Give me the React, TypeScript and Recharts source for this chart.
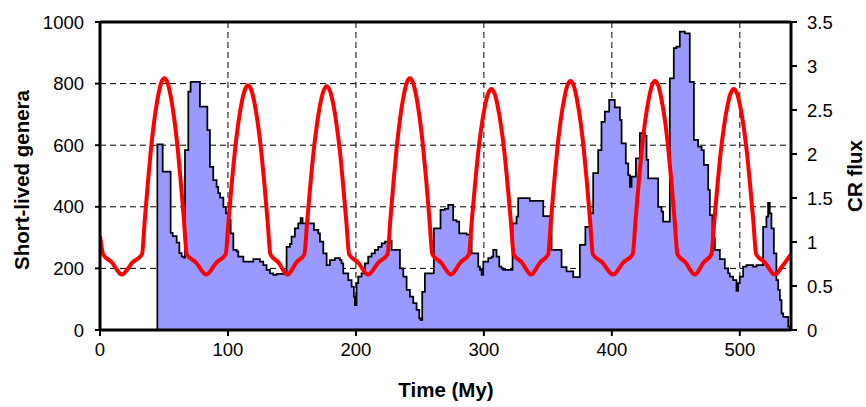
import React from "react";
import { ComposedChart, Area, Line, XAxis, YAxis, CartesianGrid, ReferenceLine, Label } from "recharts";

// Short-lived genera (step series): time (My) and count
const genTime = [
  44.8, 44.8, 49, 55.2, 56.8, 59.9, 62, 63.8, 65.6, 66.4, 69, 70.8, 78.1, 83.9, 85.9, 88.5, 91.1, 92.4, 93.8, 96.4,
  98.4, 100.3, 102.1, 104.2, 106.8, 108.1, 112, 119.8, 125, 127.6, 130.2, 132.8, 135.4, 138, 145.8, 148.4, 149.7,
  152.3, 154.9, 156.8, 158.3, 167.2, 170.6, 171.9, 174.5, 177.1, 179.7, 183.6, 187.5, 188.8, 190.1, 194, 196.6,
  198.4, 199.2, 200.5, 201.8, 204.4, 207, 209.6, 212.2, 214.8, 217.4, 220.1, 222.7, 225.3, 227.9, 234.4, 237,
  239.6, 242.2, 244.8, 247.4, 249.5, 250.5, 251.8, 253.9, 260.9, 266.1, 269.5, 272.1, 276, 278.6, 280.7, 286.5,
  289.6, 290.4, 295.6, 296.9, 298.2, 299.5, 303.4, 306, 307.3, 309.9, 312, 313.8, 315.1, 322.4, 325.5, 326.8,
  335.9, 346.4, 352.9, 360.7, 364.6, 369.8, 375, 379.3, 382.8, 385.4, 389.3, 391.9, 394.5, 397.9, 402.3, 406.3,
  407.6, 410.9, 412.8, 414.1, 415.4, 418.8, 421.9, 425.8, 427.1, 428.4, 436.2, 438.8, 440.1, 445.3, 448.4, 450.5,
  453.1, 457, 460.9, 464.1, 467.4, 470.1, 471.9, 475.3, 476.6, 478.6, 480.5, 484.4, 488.3, 490.9, 492.2, 494.8,
  497.4, 498.7, 500, 502.6, 505.2, 510.4, 513, 518.2, 520.8, 522.1, 523.4, 524.7, 526.6, 528.6, 530, 531.3, 532.6,
  533.9, 537.8, 539, 539,
];
const genCount = [
  0, 603, 514, 315, 305, 284, 250, 238, 235, 584, 774, 806, 725, 649, 530, 487, 465, 444, 430, 400,
  379, 357, 314, 260, 255, 238, 222, 230, 222, 211, 195, 184, 179, 182, 270, 280, 303,
  330, 346, 363, 346, 325, 314, 287, 249, 211, 227, 233, 227, 216, 184, 162, 141,
  108, 81, 152, 173, 184, 216, 238, 249, 260, 270, 281, 287, 289, 260, 200, 173,
  130, 108, 87, 65, 38, 32, 124, 184, 330, 390, 393, 406, 357, 352, 314, 310,
  303, 249, 206, 195, 179, 222, 233, 238, 260, 238, 206, 200, 195, 346, 368, 428,
  419, 370, 260, 204, 190, 172, 276, 335, 379, 509, 584, 676, 709, 747, 723, 682,
  606, 541, 503, 465, 498, 557, 639, 630, 552, 492, 400, 384, 352, 817, 915, 920,
  969, 963, 806, 617, 595, 584, 536, 455, 373, 298, 260, 230, 200, 184, 173, 162,
  127, 152, 173, 206, 211, 206, 211, 335, 368, 413, 379, 330, 249, 162, 130, 97, 54,
  43, 11, 11, 0,
];

// CR flux (red line): time (My) and flux
const crTime = [
  0, 2.5, 9.75, 13.4, 15.55, 17, 18.6, 20.95, 24.9,
  32.8, 35, 37.7, 40, 42.6, 45.4, 47.85, 50.3, 52.75, 55.2, 58, 60.6, 62.9, 65.6, 67.8,
  75.4, 79.2, 81.5, 83, 84.5, 86.8, 90.6,
  98.2, 100.4, 103.1, 105.4, 108, 110.8, 113.25, 115.7, 118.15, 120.6, 123.4, 126, 128.3, 131, 133.2,
  139.85, 143.2, 145.2, 146.5, 147.8, 149.8, 153.1,
  159.7, 161.9, 164.6, 166.9, 169.5, 172.3, 174.75, 177.2, 179.65, 182.1, 184.9, 187.5, 189.8, 192.5, 194.7,
  202.1, 205.8, 208, 209.5, 211, 213.3, 217.1,
  224.7, 226.9, 229.6, 231.9, 234.5, 237.3, 239.75, 242.2, 244.65, 247.1, 249.9, 252.5, 254.8, 257.5, 259.7,
  266.95, 270.6, 272.8, 274.2, 275.6, 277.7, 281.25,
  288.3, 290.5, 293.2, 295.5, 298.1, 300.9, 303.35, 305.8, 308.25, 310.7, 313.5, 316.1, 318.4, 321.1, 323.3,
  330.1, 333.5, 335.5, 336.9, 338.2, 340.2, 343.55,
  350.2, 352.4, 355.1, 357.4, 360, 362.8, 365.25, 367.7, 370.15, 372.6, 375.4, 378, 380.3, 383, 385.2,
  393.05, 397, 399.3, 400.9, 402.4, 404.75, 408.6,
  416.3, 418.5, 421.2, 423.5, 426.1, 428.9, 431.35, 433.8, 436.25, 438.7, 441.5, 444.1, 446.4, 449.1, 451.3,
  458.05, 461.4, 463.5, 464.8, 466.1, 468.1, 471.3,
  477.8, 480, 482.7, 485, 487.6, 490.4, 492.85, 495.3, 497.75, 500.2, 503, 505.6, 507.9, 510.6, 512.8,
  520.05, 523.7, 525.85, 527.3, 528.8, 531, 535, 540,
];
const crFlux = [
  1.07, 0.86, 0.76, 0.68, 0.64, 0.63, 0.64, 0.68, 0.76,
  0.86, 1.25, 1.72, 2.08, 2.4, 2.66, 2.81, 2.86, 2.81, 2.66, 2.4, 2.08, 1.72, 1.25, 0.86,
  0.76, 0.68, 0.64, 0.63, 0.64, 0.68, 0.76,
  0.86, 1.23, 1.69, 2.03, 2.34, 2.59, 2.73, 2.78, 2.73, 2.59, 2.34, 2.03, 1.69, 1.23, 0.86,
  0.76, 0.68, 0.64, 0.63, 0.64, 0.68, 0.76,
  0.86, 1.23, 1.68, 2.03, 2.33, 2.58, 2.72, 2.77, 2.72, 2.58, 2.33, 2.03, 1.68, 1.23, 0.86,
  0.76, 0.68, 0.64, 0.63, 0.64, 0.68, 0.76,
  0.86, 1.25, 1.72, 2.08, 2.4, 2.66, 2.81, 2.86, 2.81, 2.66, 2.4, 2.08, 1.72, 1.25, 0.86,
  0.76, 0.68, 0.64, 0.63, 0.64, 0.68, 0.76,
  0.86, 1.23, 1.67, 2.01, 2.31, 2.55, 2.69, 2.74, 2.69, 2.55, 2.31, 2.01, 1.67, 1.23, 0.86,
  0.76, 0.68, 0.64, 0.63, 0.64, 0.68, 0.76,
  0.86, 1.24, 1.71, 2.06, 2.38, 2.63, 2.78, 2.83, 2.78, 2.63, 2.38, 2.06, 1.71, 1.24, 0.86,
  0.76, 0.68, 0.64, 0.63, 0.64, 0.68, 0.76,
  0.86, 1.24, 1.71, 2.06, 2.38, 2.63, 2.78, 2.83, 2.78, 2.63, 2.38, 2.06, 1.71, 1.24, 0.86,
  0.76, 0.68, 0.64, 0.63, 0.64, 0.68, 0.76,
  0.86, 1.23, 1.67, 2.01, 2.31, 2.55, 2.69, 2.74, 2.69, 2.55, 2.31, 2.01, 1.67, 1.23, 0.86,
  0.76, 0.68, 0.64, 0.63, 0.64, 0.68, 0.76, 0.86,
];

const xTicks = [0, 100, 200, 300, 400, 500];
const leftTicks = [0, 200, 400, 600, 800, 1000];
const rightTicks = [0, 0.5, 1, 1.5, 2, 2.5, 3, 3.5];

const genData = genTime.map((t, i) => ({ t, g: genCount[i] }));
const crData = crTime.map((t, i) => ({ t, cr: crFlux[i] }));

const FONT = "'Liberation Sans', Arial, Helvetica, sans-serif";
const tickStyle = { fill: "#000", fontSize: 18.5, fontFamily: FONT };

const LeftTitle = () => (
  <text x={21} y={180} transform="rotate(-90 21 180)" textAnchor="middle" dominantBaseline="central"
    fontFamily={FONT} fontWeight="bold" fontSize={20.5} fill="#000">Short-lived genera</text>
);
const RightTitle = () => (
  <text x={854} y={176} transform="rotate(-90 854 176)" textAnchor="middle" dominantBaseline="central"
    fontFamily={FONT} fontWeight="bold" fontSize={20.5} fill="#000">CR flux</text>
);
const BottomTitle = () => (
  <text x={446} y={397} textAnchor="middle" fontFamily={FONT} fontWeight="bold" fontSize={20.5} fill="#000">Time (My)</text>
);

export default function App() {
  return (
    <div style={{ position: "absolute", left: 0, top: 0 }}>
      <ComposedChart width={866} height={407} margin={{ top: 22, right: 0, bottom: 0, left: 0 }}>
        <CartesianGrid yAxisId="left" stroke="#000" strokeWidth={1} strokeDasharray="6 4" />
        <XAxis
          dataKey="t"
          type="number"
          domain={[0, 540]}
          ticks={xTicks}
          allowDataOverflow
          height={77}
          axisLine={{ stroke: "#000", strokeWidth: 3 }}
          tickLine={{ stroke: "#000", strokeWidth: 2 }}
          tickSize={6}
          tickMargin={7}
          tick={tickStyle}
          label={<Label content={BottomTitle} />}
        />
        <YAxis
          yAxisId="left"
          orientation="left"
          domain={[0, 1000]}
          ticks={leftTicks}
          width={100}
          axisLine={{ stroke: "#000", strokeWidth: 3 }}
          tickLine={{ stroke: "#000", strokeWidth: 2 }}
          tickSize={5}
          tickMargin={11}
          tick={tickStyle}
          label={<Label content={LeftTitle} />}
        />
        <YAxis
          yAxisId="right"
          orientation="right"
          domain={[0, 3.5]}
          ticks={rightTicks}
          width={75}
          axisLine={{ stroke: "#000", strokeWidth: 3 }}
          tickLine={{ stroke: "#000", strokeWidth: 2 }}
          tickSize={6}
          tickMargin={10}
          tick={tickStyle}
          label={<Label content={RightTitle} />}
        />
        <Area
          yAxisId="left"
          data={genData}
          dataKey="g"
          type="stepAfter"
          stroke="#000"
          strokeWidth={1.75}
          fill="#9999ff"
          fillOpacity={1}
          isAnimationActive={false}
          dot={false}
          activeDot={false}
        />
        <Line
          yAxisId="right"
          data={crData}
          dataKey="cr"
          type="monotone"
          stroke="#ff0000"
          strokeWidth={4}
          dot={false}
          activeDot={false}
          isAnimationActive={false}
        />
        <ReferenceLine yAxisId="left" y={1000} stroke="#000" strokeWidth={3} />
      </ComposedChart>
    </div>
  );
}
